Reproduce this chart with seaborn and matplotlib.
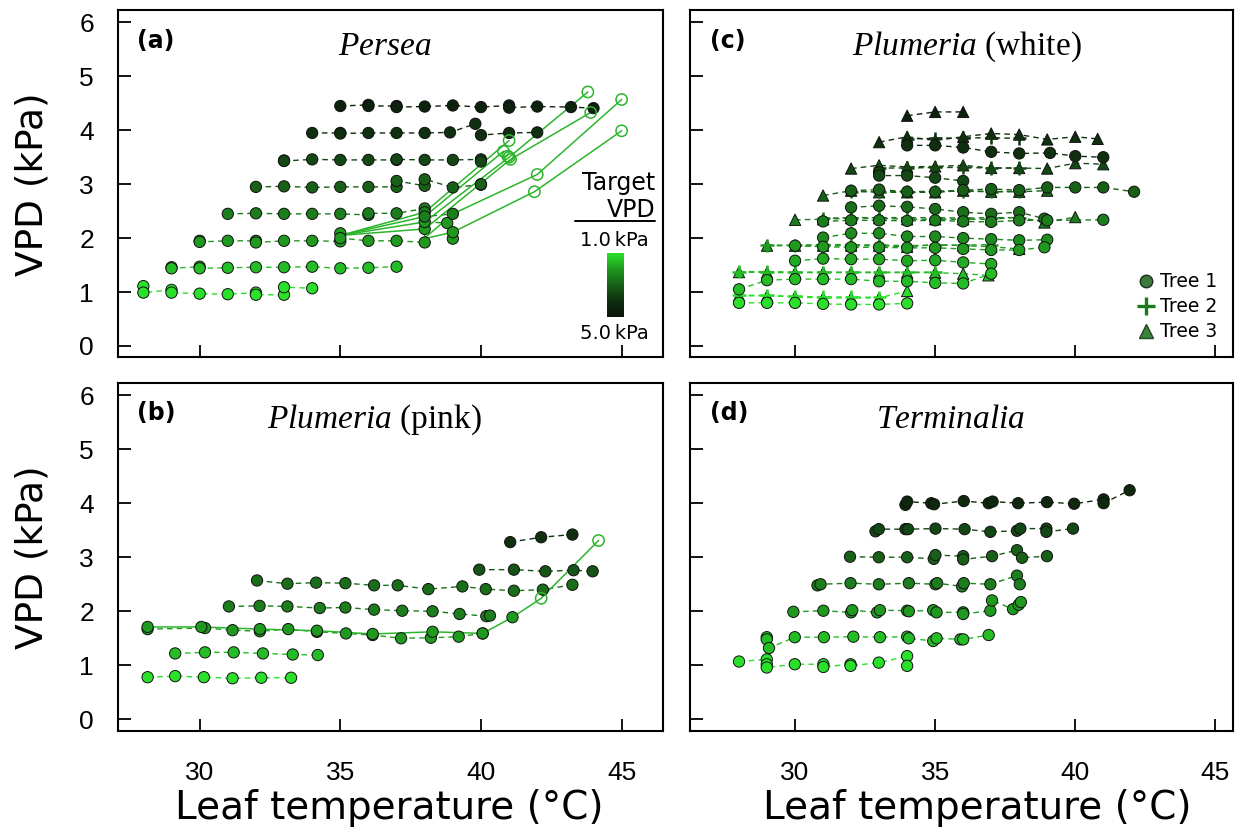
import numpy as np
import pandas as pd
import matplotlib
matplotlib.use("Agg")
import matplotlib.pyplot as plt
import seaborn as sns
from matplotlib.colors import LinearSegmentedColormap
from matplotlib.lines import Line2D

# ------------------------------------------------------------------ data
# (a) Persea : rows of measurements grouped by target VPD
A_TARGET = [1.0, 1.5, 2.0, 2.5, 3.0, 3.5, 4.0, 4.5]
A_TEMP = [
    [28, 28, 29, 29, 30, 31, 32, 32, 33, 33, 34],
    [29, 29, 30, 30, 31, 32, 33, 34, 35, 36, 37],
    [30, 30, 31, 32, 32, 33, 34, 35, 35, 35, 36, 37, 38, 38, 38, 38.8, 39, 39],
    [31, 32, 33, 34, 35, 36, 36, 37, 38, 38, 38, 39],
    [32, 33, 34, 35, 36, 37, 37, 38, 38, 39, 40, 40],
    [33, 33, 34, 35, 36, 37, 37, 38, 39, 40, 40],
    [34, 35, 35, 36, 37, 38, 38.9, 39.8, 40, 41, 42],
    [35, 36, 36, 37, 37, 38, 39, 40, 41, 41, 42, 43.2, 44],
]
A_VPD = [
    [1.11, 0.99, 1.04, 0.99, 0.97, 0.96, 0.99, 0.95, 0.95, 1.09, 1.07],
    [1.46, 1.44, 1.47, 1.44, 1.45, 1.46, 1.46, 1.47, 1.44, 1.45, 1.47],
    [1.95, 1.93, 1.95, 1.95, 1.92, 1.95, 1.95, 1.94, 2.09, 2.00, 1.95, 1.95, 1.92, 2.17, 2.30, 2.28, 1.99, 2.11],
    [2.45, 2.46, 2.45, 2.45, 2.45, 2.43, 2.46, 2.46, 2.55, 2.48, 2.40, 2.45],
    [2.95, 2.96, 2.94, 2.95, 2.95, 2.95, 3.06, 2.97, 3.09, 2.94, 2.99, 3.00],
    [3.44, 3.43, 3.46, 3.45, 3.45, 3.45, 3.46, 3.45, 3.45, 3.46, 3.42],
    [3.95, 3.95, 3.94, 3.95, 3.95, 3.95, 3.96, 4.12, 3.91, 3.95, 3.96],
    [4.45, 4.47, 4.45, 4.45, 4.43, 4.44, 4.46, 4.43, 4.46, 4.42, 4.44, 4.43, 4.41],
]
A_SOLID_TEMP = [
    [35.0, 38.0, 40.8],
    [35.0, 38.0, 41.0],
    [35.0, 38.0, 41.0, 43.8],
    [35.0, 38.0, 41.05, 43.9],
    [38.0, 39.0, 42.0, 45.0],
    [38.0, 39.0, 41.9, 45.0],
]
A_SOLID_VPD = [
    [2.05, 2.40, 3.61],
    [2.05, 2.48, 3.81],
    [2.05, 2.30, 3.50, 4.71],
    [2.05, 2.17, 3.46, 4.33],
    [2.00, 2.45, 3.18, 4.57],
    [1.99, 2.11, 2.86, 3.99],
]
A_OPEN_TEMP = [40.8, 41.0, 41.0, 43.8, 41.05, 40.95, 43.9, 42.0, 45.0, 41.9, 45.0]
A_OPEN_VPD = [3.61, 3.81, 3.50, 4.71, 3.46, 3.52, 4.33, 3.18, 4.57, 2.86, 3.99]

# (b) Plumeria (pink)
B_TARGET = [1.0, 1.5, 2.0, 2.5, 2.75, 3.25, 4.0]
B_TEMP = [
    [28.15, 29.13, 30.15, 31.17, 32.19, 33.25],
    [29.13, 30.19, 31.21, 32.25, 33.31, 34.2],
    [28.15, 30.19, 31.17, 32.14, 33.15, 34.17, 35.2, 36.15, 37.16, 38.22, 39.21, 40.06],
    [31.04, 32.13, 33.12, 34.27, 35.18, 36.2, 37.2, 38.28, 39.24, 40.19, 40.32],
    [32.04, 33.12, 34.14, 35.18, 36.2, 37.04, 38.13, 39.34, 40.17, 41.17, 42.2, 43.25],
    [39.94, 41.17, 42.29, 43.29, 43.97],
    [41.04, 42.14, 43.25],
]
B_VPD = [
    [0.78, 0.80, 0.78, 0.76, 0.77, 0.77],
    [1.22, 1.24, 1.24, 1.22, 1.20, 1.19],
    [1.67, 1.69, 1.65, 1.63, 1.67, 1.62, 1.59, 1.56, 1.50, 1.51, 1.53, 1.59],
    [2.09, 2.10, 2.09, 2.06, 2.07, 2.03, 2.01, 2.00, 1.95, 1.91, 1.92],
    [2.57, 2.51, 2.53, 2.52, 2.48, 2.48, 2.41, 2.46, 2.41, 2.38, 2.40, 2.49],
    [2.77, 2.77, 2.74, 2.76, 2.74],
    [3.28, 3.37, 3.42],
]
B_SOLID_TEMP = [28.15, 30.06, 32.14, 34.17, 36.15, 38.28, 40.06, 41.12, 42.14, 44.18]
B_SOLID_VPD = [1.71, 1.71, 1.67, 1.64, 1.58, 1.62, 1.59, 1.89, 2.24, 3.31]
B_SOLID_TARGET = 2.0
B_OPEN_TEMP = [42.14, 44.18]
B_OPEN_VPD = [2.24, 3.31]

# (c) Plumeria (white) : three trees
C_TREE = (["Tree 3"] * 8) + (["Tree 2"] * 7) + (["Tree 1"] * 10)
C_TARGET = [4.5, 4.0, 3.5, 3.0, 2.5, 2.0, 1.5, 1.0,
            4.0, 3.5, 3.0, 2.5, 2.0, 1.5, 1.0,
            4.0, 3.5, 3.0, 2.75, 2.5, 2.25, 2.0, 1.75, 1.5, 1.0]
C_TEMP = [
    [34, 35, 36],
    [33, 34, 35, 36, 37, 38, 39, 40, 40.8],
    [32, 33, 34, 35, 36, 37, 38, 39, 40, 41],
    [31, 32, 33, 34, 35, 36, 37, 38, 39],
    [30, 31, 32, 33, 34, 35, 36, 37, 38, 38.9, 40],
    [29, 30, 31, 32, 33, 34, 35, 36, 37, 38],
    [28, 29, 30, 31, 32, 33, 34, 35, 36, 36.9],
    [28, 29, 30, 31, 32, 33, 34],
    [34, 35, 36, 37, 38],
    [33, 34, 35, 36, 37, 38],
    [32, 33, 34, 35, 36, 37, 38],
    [31, 32, 33, 34, 35, 36, 37, 38],
    [29, 30, 31, 32, 33, 34, 35, 36, 37],
    [28, 29, 30, 31, 32, 33, 34, 35],
    [28, 29, 30, 31, 32, 33],
    [34, 35, 36, 37, 38, 39.1, 40, 41],
    [33, 33, 34, 35, 36],
    [32, 33, 34, 35, 36, 37, 38, 39, 40, 41, 42.1],
    [32, 33, 34, 35, 36, 37, 38, 38.9],
    [31, 32, 33, 34, 35, 36, 37, 38, 39, 41],
    [31, 32, 33, 34, 35, 36, 37, 38, 39],
    [30, 31, 32, 33, 34, 35, 36, 37, 38, 38.9],
    [30, 31, 32, 33, 34, 35, 36, 37],
    [28, 29, 30, 31, 32, 33, 34, 35, 36, 37],
    [28, 29, 30, 31, 32, 33, 34],
]
C_VPD = [
    [4.27, 4.34, 4.34],
    [3.78, 3.88, 3.81, 3.88, 3.94, 3.92, 3.83, 3.88, 3.84],
    [3.29, 3.35, 3.32, 3.33, 3.35, 3.30, 3.30, 3.29, 3.39, 3.37],
    [2.79, 2.88, 2.85, 2.85, 2.85, 2.88, 2.86, 2.86, 2.88],
    [2.34, 2.35, 2.37, 2.37, 2.35, 2.35, 2.35, 2.35, 2.39, 2.29, 2.39],
    [1.86, 1.86, 1.86, 1.86, 1.86, 1.84, 1.88, 1.86, 1.84, 1.80],
    [1.37, 1.36, 1.36, 1.36, 1.36, 1.36, 1.36, 1.36, 1.34, 1.31],
    [0.93, 0.93, 0.91, 0.89, 0.89, 0.89, 1.02],
    [3.84, 3.85, 3.86, 3.86, 3.85],
    [3.30, 3.30, 3.31, 3.31, 3.30, 3.30],
    [2.86, 2.86, 2.86, 2.87, 2.87, 2.86, 2.87],
    [2.37, 2.38, 2.38, 2.38, 2.38, 2.37, 2.38, 2.38],
    [1.87, 1.87, 1.88, 1.88, 1.87, 1.86, 1.87, 1.87, 1.88],
    [1.38, 1.38, 1.37, 1.37, 1.37, 1.37, 1.37, 1.37],
    [0.94, 0.94, 0.92, 0.91, 0.91, 0.90],
    [3.72, 3.72, 3.68, 3.60, 3.57, 3.58, 3.52, 3.50],
    [3.22, 3.16, 3.16, 3.12, 3.06],
    [2.88, 2.90, 2.86, 2.86, 2.89, 2.91, 2.89, 2.94, 2.94, 2.94, 2.86],
    [2.57, 2.60, 2.58, 2.54, 2.48, 2.45, 2.48, 2.36],
    [2.31, 2.33, 2.33, 2.32, 2.33, 2.31, 2.30, 2.33, 2.33, 2.34],
    [2.01, 2.09, 2.09, 2.03, 2.03, 2.00, 1.98, 1.96, 1.97],
    [1.86, 1.84, 1.83, 1.83, 1.82, 1.82, 1.80, 1.78, 1.78, 1.83],
    [1.58, 1.62, 1.61, 1.61, 1.58, 1.59, 1.55, 1.52],
    [1.05, 1.22, 1.24, 1.24, 1.24, 1.20, 1.20, 1.17, 1.16, 1.34],
    [0.80, 0.80, 0.80, 0.78, 0.77, 0.77, 0.79],
]

# (d) Terminalia
D_TARGET = [1.0, 1.5, 2.0, 2.5, 3.0, 3.5, 4.25]
D_TEMP = [
    [28.0, 28.99, 28.99, 28.99, 29.99, 31.01, 31.01, 31.98, 31.98, 32.99, 34.0, 34.0],
    [28.99, 28.99, 29.07, 29.99, 31.03, 32.08, 33.03, 34.0, 34.06, 34.93, 35.05, 35.9, 36.0, 36.91],
    [29.94, 31.01, 32.0, 32.04, 32.93, 33.03, 34.0, 34.06, 34.93, 35.05, 36.0, 36.0, 36.97, 37.03, 37.78, 37.98, 38.06],
    [30.8, 30.91, 31.98, 32.99, 34.06, 35.01, 35.07, 35.96, 36.02, 36.97, 37.92, 38.02],
    [31.96, 32.99, 34.0, 34.95, 35.01, 36.0, 36.0, 37.03, 37.92, 38.1, 38.99],
    [32.87, 32.99, 33.94, 34.03, 35.01, 36.05, 36.97, 37.92, 38.04, 38.97, 38.97, 39.92],
    [33.94, 34.0, 34.86, 34.96, 36.02, 36.91, 37.05, 37.96, 38.99, 39.96, 41.01, 41.01, 41.94],
]
D_VPD = [
    [1.07, 1.11, 1.02, 0.96, 1.02, 1.02, 0.97, 1.02, 0.99, 1.05, 1.17, 0.99],
    [1.52, 1.48, 1.32, 1.52, 1.52, 1.53, 1.52, 1.53, 1.50, 1.45, 1.50, 1.48, 1.48, 1.56],
    [1.99, 2.01, 1.98, 2.02, 1.98, 2.02, 2.01, 2.00, 2.02, 1.98, 1.98, 1.95, 2.01, 2.20, 2.04, 2.12, 2.17],
    [2.48, 2.50, 2.52, 2.50, 2.52, 2.50, 2.52, 2.46, 2.52, 2.50, 2.66, 2.50],
    [3.01, 3.00, 3.00, 2.97, 3.04, 3.02, 2.96, 3.02, 3.13, 2.99, 3.02],
    [3.48, 3.52, 3.52, 3.52, 3.53, 3.52, 3.47, 3.49, 3.53, 3.53, 3.47, 3.53],
    [3.97, 4.03, 4.00, 3.98, 4.04, 4.00, 4.03, 4.00, 4.02, 3.99, 4.07, 4.00, 4.24],
]

TITLES = {"a": ("Persea", ""), "b": ("Plumeria", " (pink)"),
          "c": ("Plumeria", " (white)"), "d": ("Terminalia", "")}
XTICKS = [30, 35, 40, 45]
YTICKS = [0, 1, 2, 3, 4, 5, 6]

# ------------------------------------------------------------------ style
sns.set_theme(style="white")
plt.rcParams.update({
    "font.family": ["DejaVu Sans"],
    "mathtext.fontset": "custom",
    "mathtext.it": "Liberation Serif:italic",
    "mathtext.rm": "Liberation Serif",
    "axes.edgecolor": "black",
    "axes.linewidth": 1.5,
    "text.color": "black",
    "axes.labelcolor": "black",
    "xtick.color": "black",
    "ytick.color": "black",
    "xtick.labelcolor": "black",
    "ytick.labelcolor": "black",
})

CMAP = LinearSegmentedColormap.from_list(
    "vpd", ["#2be02b", "#1f9a1f", "#186018", "#0f2f0f", "#0a160a"])
SOLID_COL = "#2cb52c"
EDGE = "#101010"
W, H = 1241, 830


def rows_df(targets, temps, vpds, trees=None):
    recs = []
    for i, (tg, ts, vs) in enumerate(zip(targets, temps, vpds)):
        for t, v in zip(ts, vs):
            recs.append({"row": i, "target": tg, "T": t, "V": v,
                         "tree": trees[i] if trees else "Tree 1"})
    return pd.DataFrame(recs)


def draw_lines(ax, df):
    sns.lineplot(data=df, x="T", y="V", hue="target", units="row",
                 estimator=None, sort=False, palette=CMAP, hue_norm=(1, 5),
                 legend=False, ax=ax, linestyle=(0, (4, 3)), linewidth=1.0,
                 zorder=2)


def draw_points(ax, df, marker="o", z=3):
    if marker == "+":
        sns.scatterplot(data=df, x="T", y="V", hue="target", palette=CMAP,
                        hue_norm=(1, 5), legend=False, ax=ax, s=90,
                        marker="+", linewidth=1.8, zorder=z)
    else:
        sns.scatterplot(data=df, x="T", y="V", hue="target", palette=CMAP,
                        hue_norm=(1, 5), legend=False, ax=ax, s=66,
                        marker=marker, edgecolor=EDGE, linewidth=0.7,
                        zorder=z)


fig = plt.figure(figsize=(W / 100, H / 100), dpi=100)


def add_ax(l, t, r, b):
    return fig.add_axes([l / W, 1 - b / H, (r - l) / W, (b - t) / H])


axes = {
    "a": add_ax(117.5, 10, 662.7, 357.3),
    "c": add_ax(690, 10, 1233, 357.3),
    "b": add_ax(117.5, 382.7, 662.7, 730.7),
    "d": add_ax(690, 382.7, 1233, 730.7),
}
XLIM = {"a": (27.08, 46.46), "b": (27.08, 46.46),
        "c": (26.25, 45.63), "d": (26.25, 45.63)}
TITLE_X = {"a": 0.491, "b": 0.472, "c": 0.509, "d": 0.479}

# --- (a)
ax = axes["a"]
dfa = rows_df(A_TARGET, A_TEMP, A_VPD)
draw_lines(ax, dfa)
sol = pd.DataFrame([{"path": i, "T": t, "V": v}
                    for i, (ts, vs) in enumerate(zip(A_SOLID_TEMP, A_SOLID_VPD))
                    for t, v in zip(ts, vs)])
sns.lineplot(data=sol, x="T", y="V", units="path", estimator=None, sort=False,
             color=SOLID_COL, linewidth=1.1, ax=ax, zorder=2.5, legend=False)
draw_points(ax, dfa)
ax.scatter(A_OPEN_TEMP, A_OPEN_VPD, s=66, facecolors="none",
           edgecolors=SOLID_COL, linewidths=1.1, zorder=4)

# colour-bar legend inside (a)
grad = np.linspace(1, 5, 200).reshape(-1, 1)
ax.imshow(grad, extent=[44.47, 45.04, 0.53, 1.70], aspect="auto", cmap=CMAP,
          vmin=1, vmax=5, origin="upper", zorder=5)
ax.text(46.2, 3.03, "Target", ha="right", va="center", fontsize=17, zorder=6)
ax.text(46.2, 2.53, "VPD", ha="right", va="center", fontsize=17, zorder=6)
ax.plot([43.33, 46.18], [2.31, 2.31], color="black", lw=1.4, zorder=6)
ax.text(44.75, 1.96, "1.0\u2009kPa", ha="center", va="center", fontsize=14)
ax.text(44.75, 0.24, "5.0\u2009kPa", ha="center", va="center", fontsize=14)

# --- (b)
ax = axes["b"]
dfb = rows_df(B_TARGET, B_TEMP, B_VPD)
draw_lines(ax, dfb)
solb = pd.DataFrame({"T": B_SOLID_TEMP, "V": B_SOLID_VPD})
sns.lineplot(data=solb, x="T", y="V", estimator=None, sort=False,
             color=SOLID_COL, linewidth=1.1, ax=ax, zorder=2.5, legend=False)
draw_points(ax, dfb)
solb_f = pd.DataFrame({"T": B_SOLID_TEMP[:-2], "V": B_SOLID_VPD[:-2],
                       "target": [B_SOLID_TARGET] * (len(B_SOLID_TEMP) - 2)})
draw_points(ax, solb_f)
ax.scatter(B_OPEN_TEMP, B_OPEN_VPD, s=66, facecolors="none",
           edgecolors=SOLID_COL, linewidths=1.1, zorder=4)

# --- (c)
ax = axes["c"]
dfc = rows_df(C_TARGET, C_TEMP, C_VPD, C_TREE)
draw_lines(ax, dfc)
draw_points(ax, dfc[dfc.tree == "Tree 3"], marker="^", z=3)
draw_points(ax, dfc[dfc.tree == "Tree 2"], marker="+", z=3.2)
draw_points(ax, dfc[dfc.tree == "Tree 1"], marker="o", z=3.4)
handles = [
    Line2D([], [], ls="none", marker="o", markersize=9,
           markerfacecolor="#3b7a3b", markeredgecolor="#1a2e1a", label="Tree 1"),
    Line2D([], [], ls="none", marker="+", markersize=13, markeredgewidth=2.4,
           color="#1b7a1b", label="Tree 2"),
    Line2D([], [], ls="none", marker="^", markersize=10,
           markerfacecolor="#3d7f3d", markeredgecolor="#1f4a1f", label="Tree 3"),
]
ax.legend(handles=handles, loc="lower right", bbox_to_anchor=(0.985, 0.025),
          frameon=False, fontsize=13.5, handletextpad=0.25, labelspacing=0.32,
          handlelength=1.0, borderaxespad=0.0, labelcolor="black")

# --- (d)
ax = axes["d"]
dfd = rows_df(D_TARGET, D_TEMP, D_VPD)
draw_lines(ax, dfd)
draw_points(ax, dfd)

# --- common formatting
for key, ax in axes.items():
    ax.set_xlim(*XLIM[key])
    ax.set_ylim(-0.21, 6.23)
    ax.set_xticks(XTICKS)
    ax.set_yticks(YTICKS)
    ax.set_xlabel("")
    ax.set_ylabel("")
    ax.tick_params(direction="in", length=9, width=1.3, color="black",
                   labelcolor="black", left=True, bottom=True, top=False,
                   right=False, labelsize=19)
    ax.tick_params(axis="y", pad=17)
    ax.tick_params(axis="x", pad=22)
    for lab in ax.get_xticklabels() + ax.get_yticklabels():
        lab.set_fontfamily("Liberation Sans")
    if key in ("a", "c"):
        ax.tick_params(axis="x", labelbottom=False)
    if key in ("c", "d"):
        ax.tick_params(axis="y", labelleft=False)
    for sp in ax.spines.values():
        sp.set_visible(True)
        sp.set_linewidth(1.5)
        sp.set_color("black")
    ax.text(0.036, 0.912, f"({key})", transform=ax.transAxes, ha="left",
            va="center", fontsize=17, fontweight="bold", family="DejaVu Sans",
            color="black")
    it, rest = TITLES[key]
    ax.text(TITLE_X[key], 0.893, f"$\\it{{{it}}}$" + rest, transform=ax.transAxes,
            ha="center", va="center", fontsize=24, family="Liberation Serif",
            color="black")

fig.text(33 / W, 1 - 184 / H, "VPD (kPa)", rotation=90, ha="center",
         va="center", fontsize=27, color="black")
fig.text(33 / W, 1 - 557 / H, "VPD (kPa)", rotation=90, ha="center",
         va="center", fontsize=27, color="black")
fig.text(389 / W, 1 - 808 / H, "Leaf temperature (°C)", ha="center",
         va="center", fontsize=28, color="black")
fig.text(977 / W, 1 - 808 / H, "Leaf temperature (°C)", ha="center",
         va="center", fontsize=28, color="black")

fig.savefig("out.png", dpi=100)
